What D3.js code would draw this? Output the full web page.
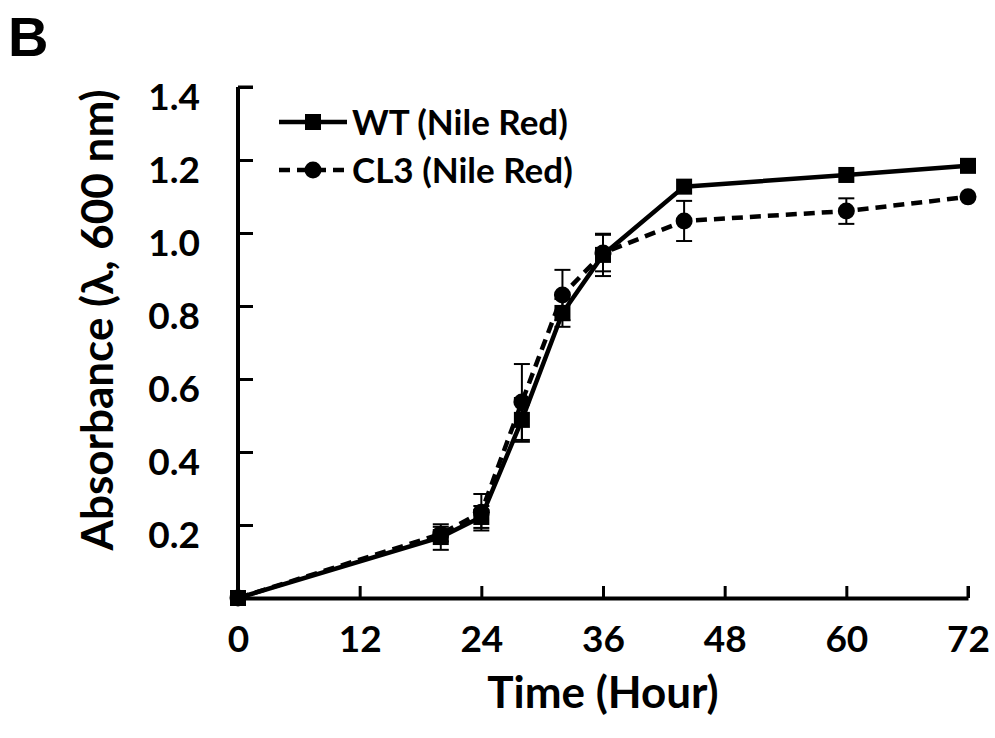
<!DOCTYPE html>
<html>
<head>
<meta charset="utf-8">
<script src="https://cdn.jsdelivr.net/npm/d3@7"></script>
<style>
  body { margin: 0; background: #fff; }
  svg text { font-family: Lato, "Open Sans", sans-serif; font-weight: 700; fill: #000; }
</style>
</head>
<body>
<svg id="chart" width="995" height="738"></svg>
<script>
const hours = [0, 20, 24, 28, 32, 36, 44, 60, 72];
const wtValues = [0, 0.167, 0.222, 0.488, 0.781, 0.94, 1.127, 1.159, 1.184];
const wtErrors = [0, 0.035, 0.03, 0.06, 0.038, 0.058, 0, 0, 0];
const cl3Values = [0, 0.175, 0.235, 0.537, 0.830, 0.945, 1.033, 1.060, 1.099];
const cl3Errors = [0, 0.02, 0.05, 0.104, 0.069, 0.05, 0.055, 0.035, 0];
const xTicks = [0, 12, 24, 36, 48, 60, 72];
const yTicks = [0.2, 0.4, 0.6, 0.8, 1.0, 1.2, 1.4];
const seriesNames = ["WT (Nile Red)", "CL3 (Nile Red)"];

const svg = d3.select("#chart");
const x = d3.scaleLinear().domain([0, 72]).range([238, 968]);
const y = d3.scaleLinear().domain([0, 1.4]).range([598, 87]);

const series = [
  {name: seriesNames[0], vals: wtValues, errs: wtErrors, dash: null, shape: "square"},
  {name: seriesNames[1], vals: cl3Values, errs: cl3Errors, dash: "11,7", shape: "circle"}
];

// axes
const xAxis = svg.append("g")
  .attr("transform", "translate(0," + y(0) + ")")
  .call(d3.axisBottom(x).tickValues(xTicks).tickSizeInner(-12).tickSizeOuter(0).tickPadding(26));
const yAxis = svg.append("g")
  .attr("transform", "translate(" + x(0) + ",0)")
  .call(d3.axisLeft(y).tickValues(yTicks).tickSizeInner(-15).tickSizeOuter(0).tickPadding(38)
    .tickFormat(d3.format(".1f")));

[xAxis, yAxis].forEach(a => {
  a.select(".domain").attr("stroke", "#000").attr("stroke-width", 4);
  a.selectAll(".tick line").attr("stroke", "#000").attr("stroke-width", 3);
  a.selectAll(".tick text").style("font-size", "37px");
});
// extend y axis line to top tick
yAxis.select(".domain").attr("d", "M0," + y(1.4) + "V" + (y(0) + 2));
yAxis.append("line").attr("x1", 0).attr("x2", 15).attr("y1", y(1.4)).attr("y2", y(1.4))
  .attr("stroke", "#000").attr("stroke-width", 3);
yAxis.selectAll(".tick text").attr("dy", "0.6em").attr("x", -38);
xAxis.selectAll(".tick text").attr("dy", "0.75em");
xAxis.append("line").attr("x1", x(72)).attr("x2", x(72)).attr("y1", 0).attr("y2", -12)
  .attr("stroke", "#000").attr("stroke-width", 3);

// axis titles
svg.append("text")
  .attr("x", 603).attr("y", 708)
  .attr("text-anchor", "middle")
  .style("font-size", "44px")
  .text("Time (Hour)");
svg.append("text")
  .attr("transform", "translate(113,320) rotate(-90)")
  .attr("text-anchor", "middle")
  .style("font-size", "44px")
  .text("Absorbance (λ, 600 nm)");

svg.append("text")
  .attr("x", 8).attr("y", 56)
  .style("font-family", "'Liberation Sans', Arial, sans-serif")
  .style("font-size", "56px")
  .style("font-weight", "700")
  .text("B");

function drawMarker(g, shape, cx, cy) {
  if (shape === "square") {
    g.append("rect").attr("x", cx - 8).attr("y", cy - 8).attr("width", 16).attr("height", 16).attr("fill", "#000");
  } else {
    g.append("circle").attr("cx", cx).attr("cy", cy).attr("r", 8.5).attr("fill", "#000");
  }
}

const line = d3.line().x(d => x(d[0])).y(d => y(d[1]));

series.forEach(s => {
  const g = svg.append("g");
  const pts = hours.map((h, i) => [h, s.vals[i], s.errs[i]]);
  // error bars
  pts.filter(p => p[2] > 0).forEach(p => {
    const px = x(p[0]);
    g.append("line").attr("x1", px).attr("x2", px).attr("y1", y(p[1] - p[2])).attr("y2", y(p[1] + p[2]))
      .attr("stroke", "#000").attr("stroke-width", 2);
    [p[1] - p[2], p[1] + p[2]].forEach(v => {
      g.append("line").attr("x1", px - 8).attr("x2", px + 8).attr("y1", y(v)).attr("y2", y(v))
        .attr("stroke", "#000").attr("stroke-width", 2);
    });
  });
  g.append("path").datum(pts)
    .attr("d", line)
    .attr("fill", "none")
    .attr("stroke", "#000")
    .attr("stroke-width", 4.5)
    .attr("stroke-dasharray", s.dash);
  pts.forEach(p => drawMarker(g, s.shape, x(p[0]), y(p[1])));
});

// legend
const legendY = [122, 170];
series.forEach((s, i) => {
  const lg = svg.append("g");
  lg.append("line").attr("x1", 279).attr("x2", 347).attr("y1", legendY[i]).attr("y2", legendY[i])
    .attr("stroke", "#000").attr("stroke-width", 4.5).attr("stroke-dasharray", s.dash);
  drawMarker(lg, s.shape, 313, legendY[i]);
  lg.append("text").attr("x", 352).attr("y", legendY[i]).attr("dy", "0.36em")
    .style("font-size", "35px").text(s.name);
});
</script>
</body>
</html>
